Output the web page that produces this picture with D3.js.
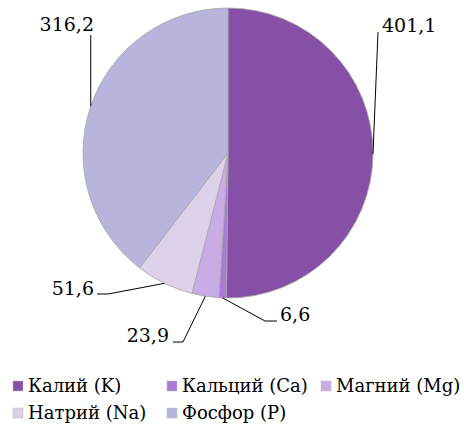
<!DOCTYPE html>
<html>
<head>
<meta charset="utf-8">
<script src="https://cdn.jsdelivr.net/npm/d3@7"></script>
<style>
  body { margin: 0; background: #fff; }
</style>
</head>
<body>
<div class="chart"></div>
<script>
const categories = ['Калий (K)', 'Кальций (Ca)', 'Магний (Mg)', 'Натрий (Na)', 'Фосфор (P)'];
const values = [401.1, 6.6, 23.9, 51.6, 316.2];
const valueLabels = ['401,1', '6,6', '23,9', '51,6', '316,2'];
const colors = ['#8650a6', '#a97bd6', '#c9ace6', '#ddd0ea', '#b7b5dc'];

const FONT = 'DejaVu Serif, Liberation Serif, serif';

function main() {
  const width = 464,
    height = 436;
  const cx = 228,
    cy = 153,
    r = 145;

  const svg = d3
    .select('.chart')
    .append('svg')
    .attr('width', width)
    .attr('height', height);

  const data = categories.map((c, i) => ({ name: c, value: values[i], label: valueLabels[i], color: colors[i] }));

  const pie = d3.pie().sort(null).value((d) => d.value);
  const arc = d3.arc().innerRadius(0).outerRadius(r);
  const arcs = pie(data);

  const g = svg.append('g').attr('transform', `translate(${cx},${cy})`);

  g.selectAll('.slice')
    .data(arcs)
    .enter()
    .append('path')
    .attr('class', 'slice')
    .attr('d', arc)
    .attr('fill', (d) => d.data.color)
    .attr('stroke', '#a6a6a6')
    .attr('stroke-width', 0.8);

  // label layout: elbow point + line end + text position, relative to pie centre
  const labelLayout = [
    { bend: null, end: [150, -121], tx: 154, ty: -121, anchor: 'start' },
    { bend: [37, 168], end: [49, 168], tx: 52, ty: 168, anchor: 'start' },
    { bend: [-45, 189], end: [-55, 189], tx: -59, ty: 189, anchor: 'end' },
    { bend: [-120, 141], end: [-131, 141], tx: -134, ty: 142, anchor: 'end' },
    { bend: null, end: [null, -118], tx: -134, ty: -122, anchor: 'end' },
  ];

  const outer = d3.arc().innerRadius(r).outerRadius(r);

  arcs.forEach((d, i) => {
    const p = outer.centroid(d);
    const lay = labelLayout[i];
    const pts = [p];
    if (lay.bend) pts.push(lay.bend);
    // vertical leader when no x given
    pts.push([lay.end[0] === null ? p[0] : lay.end[0], lay.end[1]]);
    g.append('path')
      .attr('d', d3.line()(pts))
      .attr('fill', 'none')
      .attr('stroke', '#000')
      .attr('stroke-width', 1);
    g.append('text')
      .attr('x', lay.tx)
      .attr('y', lay.ty)
      .attr('text-anchor', lay.anchor)
      .style('font-family', FONT)
      .style('font-size', '19px')
      .attr('fill', '#000')
      .text(d.data.label);
  });

  // legend
  const legendPos = [
    [13, 381],
    [167, 381],
    [321, 381],
    [13, 408],
    [167, 408],
  ];
  const legend = svg
    .selectAll('.legend')
    .data(data)
    .enter()
    .append('g')
    .attr('class', 'legend')
    .attr('transform', (d, i) => `translate(${legendPos[i][0]},${legendPos[i][1]})`);
  legend
    .append('rect')
    .attr('x', 0)
    .attr('y', 0)
    .attr('width', 10)
    .attr('height', 10)
    .attr('fill', (d) => d.color)
    .attr('stroke', '#bbb')
    .attr('stroke-width', 0.5);
  legend
    .append('text')
    .attr('x', 15)
    .attr('y', 11)
    .style('font-family', FONT)
    .style('font-size', '18px')
    .attr('fill', '#000')
    .text((d) => d.name);
}
main();
</script>
</body>
</html>
